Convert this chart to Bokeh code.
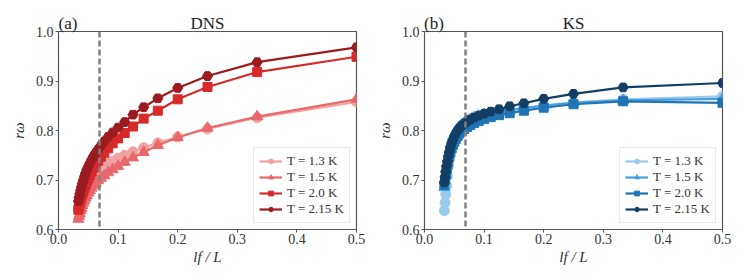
from bokeh.plotting import figure
from bokeh.layouts import row
from bokeh.models import Span, Legend, FixedTicker, PrintfTickFormatter, LinearAxis
from bokeh.embed import file_html
from bokeh.resources import INLINE

# x = l_f / L
lf_L = [0.5, 0.3333, 0.25, 0.2, 0.1667, 0.1429, 0.125, 0.1111, 0.1, 0.0909,
        0.0833, 0.0769, 0.0714, 0.0667, 0.0625, 0.0588, 0.0556, 0.0526, 0.05,
        0.0476, 0.0455, 0.0435, 0.0417, 0.04, 0.0385, 0.037, 0.0357, 0.0345, 0.0333]

temps = ["T = 1.3 K", "T = 1.5 K", "T = 2.0 K", "T = 2.15 K"]

dns_13 = [0.858, 0.826, 0.803, 0.787, 0.775, 0.765, 0.757, 0.750, 0.744, 0.738,
          0.733, 0.728, 0.723, 0.718, 0.713, 0.709, 0.704, 0.700, 0.695, 0.691,
          0.686, 0.681, 0.676, 0.671, 0.666, 0.660, 0.654, 0.647, 0.640]
dns_15 = [0.863, 0.828, 0.805, 0.786, 0.770, 0.756, 0.745, 0.736, 0.728, 0.721,
          0.715, 0.709, 0.704, 0.699, 0.694, 0.689, 0.684, 0.679, 0.674, 0.669,
          0.664, 0.659, 0.654, 0.649, 0.643, 0.638, 0.632, 0.627, 0.621]
dns_20 = [0.949, 0.918, 0.888, 0.863, 0.840, 0.824, 0.808, 0.795, 0.784, 0.774,
          0.764, 0.755, 0.747, 0.739, 0.731, 0.724, 0.717, 0.710, 0.703, 0.697,
          0.690, 0.684, 0.678, 0.672, 0.666, 0.660, 0.654, 0.647, 0.640]
dns_215 = [0.968, 0.938, 0.910, 0.886, 0.865, 0.847, 0.832, 0.817, 0.806, 0.796,
           0.787, 0.778, 0.770, 0.762, 0.755, 0.748, 0.741, 0.734, 0.727, 0.721,
           0.714, 0.707, 0.700, 0.693, 0.686, 0.679, 0.672, 0.665, 0.657]

ks_13 = [0.869, 0.863, 0.857, 0.851, 0.846, 0.842, 0.839, 0.836, 0.833, 0.830,
         0.827, 0.823, 0.819, 0.815, 0.811, 0.806, 0.800, 0.794, 0.787, 0.780,
         0.775, 0.765, 0.748, 0.728, 0.708, 0.688, 0.671, 0.654, 0.638]
ks_15 = [0.864, 0.861, 0.856, 0.850, 0.845, 0.841, 0.838, 0.835, 0.832, 0.829,
         0.826, 0.822, 0.818, 0.814, 0.810, 0.805, 0.799, 0.793, 0.786, 0.779,
         0.771, 0.762, 0.753, 0.743, 0.733, 0.722, 0.711, 0.699, 0.685]
ks_20 = [0.856, 0.859, 0.853, 0.846, 0.840, 0.835, 0.831, 0.827, 0.823, 0.819,
         0.815, 0.811, 0.807, 0.803, 0.799, 0.794, 0.789, 0.783, 0.777, 0.771,
         0.764, 0.756, 0.748, 0.739, 0.730, 0.720, 0.710, 0.700, 0.690]
ks_215 = [0.896, 0.887, 0.874, 0.864, 0.855, 0.849, 0.843, 0.838, 0.834, 0.830,
          0.826, 0.822, 0.818, 0.814, 0.810, 0.805, 0.800, 0.794, 0.788, 0.781,
          0.774, 0.766, 0.757, 0.748, 0.738, 0.728, 0.717, 0.706, 0.695]

dashed_x = 0.0688
x_ticks = [0.0, 0.1, 0.2, 0.3, 0.4, 0.5]
y_ticks = [0.6, 0.7, 0.8, 0.9, 1.0]

reds = ["#f2a2a2", "#e8686b", "#d62a2b", "#9b1b1f"]
blues = ["#9bcbec", "#4c9fdc", "#2174b6", "#133f66"]
markers = ["circle", "triangle", "square", "hex"]
sizes = [10, 11, 9, 10]

FONT = "Liberation Serif"
AX = "#555555"


def make_panel(series, colors, title, tag, border_left, border_right):
    p = figure(frame_width=298, frame_height=198,
               x_range=(0.0, 0.5), y_range=(0.6, 1.0),
               output_backend="svg", toolbar_location=None,
               min_border_left=border_left, min_border_right=border_right,
               min_border_top=31, min_border_bottom=46)
    p.grid.visible = False
    p.outline_line_color = AX
    p.outline_line_width = 1.2
    for ax in (p.xaxis[0], p.yaxis[0]):
        ax.axis_line_color = AX
        ax.major_tick_line_color = AX
        ax.minor_tick_line_color = None
        ax.major_tick_out = 3
        ax.major_tick_in = 0
        ax.major_label_standoff = 2
        ax.major_label_text_font = FONT
        ax.major_label_text_font_size = "14px"
        ax.major_label_text_color = "#333333"
        ax.axis_label_text_font = FONT
        ax.axis_label_text_font_size = "15px"
        ax.axis_label_text_font_style = "italic"
        ax.axis_label_text_color = "#333333"
        ax.formatter = PrintfTickFormatter(format="%.1f")
    p.xaxis.ticker = FixedTicker(ticks=x_ticks)
    p.yaxis.ticker = FixedTicker(ticks=y_ticks)
    p.xaxis.major_label_standoff = 1
    p.xaxis.axis_label = "lf / L"
    p.yaxis.axis_label = "rω"
    p.xaxis.axis_label_standoff = 2
    p.yaxis.axis_label_standoff = 6

    # panel tag and title, on one baseline above the frame
    tag_x = 0.016
    top = LinearAxis(ticker=FixedTicker(ticks=[tag_x, 0.25]),
                     major_label_overrides={tag_x: tag, 0.25: title},
                     axis_line_color=None, major_tick_line_color=None,
                     minor_tick_line_color=None, major_tick_out=0, major_tick_in=0,
                     major_label_standoff=-1,
                     major_label_text_font=FONT, major_label_text_font_size="17px",
                     major_label_text_color="#222222")
    p.add_layout(top, "above")

    p.add_layout(Span(location=dashed_x, dimension="height", line_color="#808080",
                      line_width=2.5, line_dash="6 3"))

    items = []
    for ys, c, m, s, lab in zip(series, colors, markers, sizes, temps):
        r1 = p.line(lf_L, ys, line_color=c, line_width=2.2)
        r2 = p.scatter(lf_L, ys, marker=m, size=s, fill_color=c, line_color=c)
        items.append((lab, [r1, r2]))

    leg = Legend(items=items, location="bottom_right")
    leg.label_text_font = FONT
    leg.label_text_font_size = "13px"
    leg.label_text_color = "#333333"
    leg.glyph_width = 23
    leg.glyph_height = 12
    leg.label_height = 12
    leg.label_standoff = 5
    leg.spacing = 0
    leg.padding = 5
    leg.margin = 6
    leg.border_line_color = "#d0d0d0"
    leg.background_fill_alpha = 0.85
    p.add_layout(leg)
    return p


p1 = make_panel([dns_13, dns_15, dns_20, dns_215], reds, "DNS", "(a)", 58, 10)
p2 = make_panel([ks_13, ks_15, ks_20, ks_215], blues, "KS", "(b)", 58, 9)

page = row(p1, p2, spacing=0)
open("out.html", "w").write(file_html(page, INLINE))
